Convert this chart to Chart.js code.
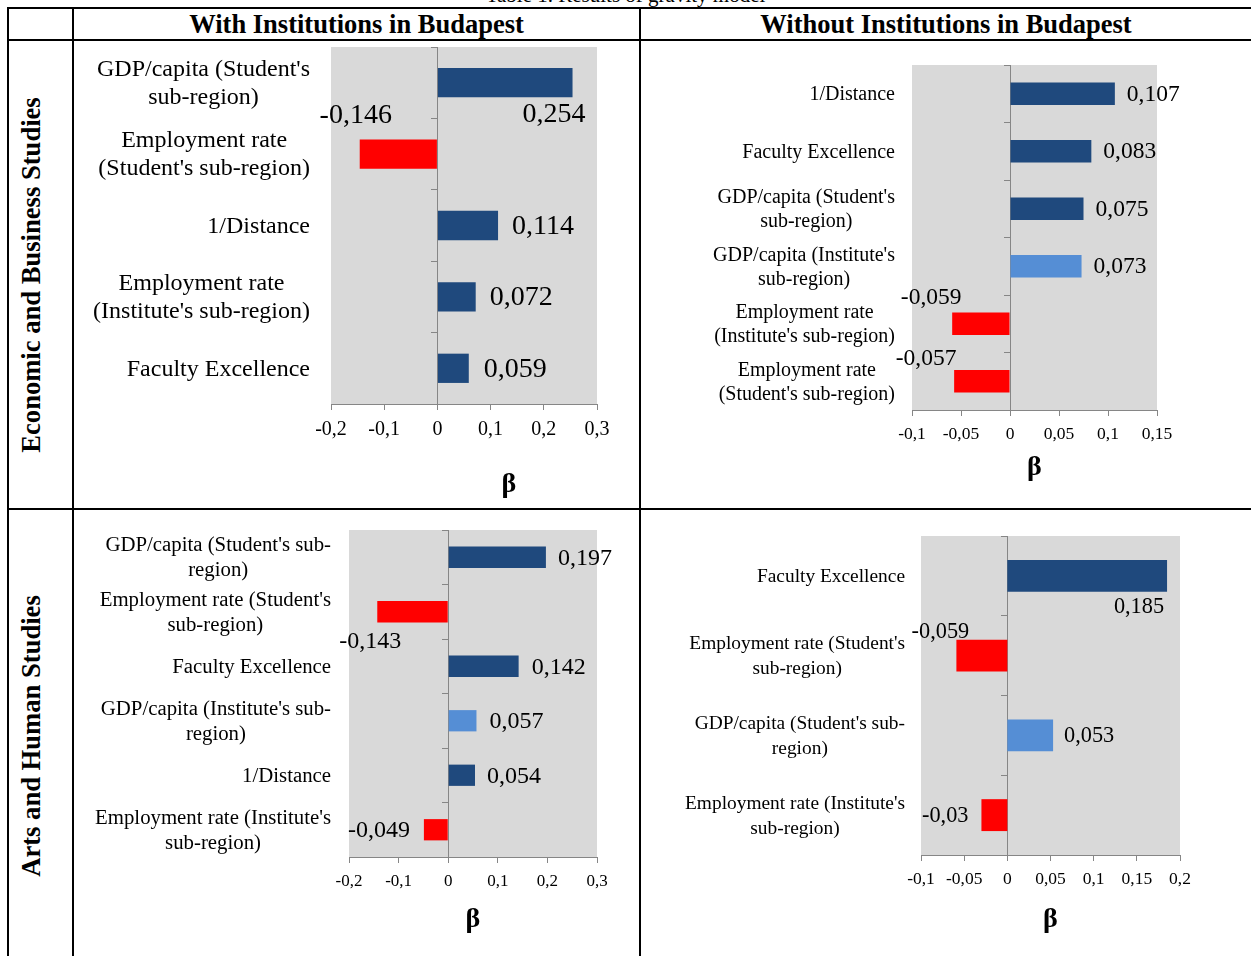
<!DOCTYPE html>
<html>
<head>
<meta charset="utf-8">
<script src="https://cdn.jsdelivr.net/npm/chart.js@4.4.0/dist/chart.umd.min.js"></script>
<style>
  html, body { margin: 0; padding: 0; background: #fff; }
  body { width: 1251px; height: 956px; position: relative; overflow: hidden;
         font-family: "Liberation Serif", "Times New Roman", serif; color: #000; }
  .line { position: absolute; background: #000; }
  .head { position: absolute; top: 8px; height: 32px; line-height: 33px; font-weight: bold;
          font-size: 26.5px; text-align: center; white-space: nowrap; }
  .side { position: absolute; font-weight: bold; font-size: 26.6px; white-space: nowrap;
          transform: translate(-50%, -50%) rotate(-90deg); }
  .caption { position: absolute; top: -15px; left: 0; width: 1251px; text-align: center;
             font-size: 21px; line-height: 21px; white-space: nowrap; }
  canvas { position: absolute; }
</style>
</head>
<body>
<div class="caption">Table 1. Results of gravity model</div>

<div class="line" style="left:7px;top:7px;width:1244px;height:2px"></div>
<div class="line" style="left:7px;top:39px;width:1244px;height:2px"></div>
<div class="line" style="left:7px;top:508px;width:1244px;height:2px"></div>
<div class="line" style="left:7px;top:7px;width:2px;height:949px"></div>
<div class="line" style="left:72px;top:7px;width:2px;height:949px"></div>
<div class="line" style="left:639px;top:7px;width:2px;height:949px"></div>

<div class="head" style="left:74px;width:565px">With Institutions in Budapest</div>
<div class="head" style="left:641px;width:610px">Without Institutions in Budapest</div>
<div class="side" style="left:31px;top:275px">Economic and Business Studies</div>
<div class="side" style="left:31px;top:736px">Arts and Human Studies</div>

<canvas id="ebWith" width="563" height="466" style="left:75px;top:42px"></canvas>
<canvas id="ebWithout" width="609" height="466" style="left:642px;top:42px"></canvas>
<canvas id="ahWith" width="563" height="444" style="left:75px;top:512px"></canvas>
<canvas id="ahWithout" width="609" height="444" style="left:642px;top:512px"></canvas>

<script>
// Economic and Business Studies, with institutions in Budapest
const ebWithLabels = [
  ["GDP/capita (Student's", "sub-region)"],
  ["Employment rate", "(Student's sub-region)"],
  ["1/Distance"],
  ["Employment rate", "(Institute's sub-region)"],
  ["Faculty Excellence"]
];
const ebWithValues = [0.254, -0.146, 0.114, 0.072, 0.059];
const ebWithColors = ['#1F497D', '#FF0000', '#1F497D', '#1F497D', '#1F497D'];

// Economic and Business Studies, without institutions in Budapest
const ebWithoutLabels = [
  ["1/Distance"],
  ["Faculty Excellence"],
  ["GDP/capita (Student's", "sub-region)"],
  ["GDP/capita (Institute's", "sub-region)"],
  ["Employment rate", "(Institute's sub-region)"],
  ["Employment rate", "(Student's sub-region)"]
];
const ebWithoutValues = [0.107, 0.083, 0.075, 0.073, -0.059, -0.057];
const ebWithoutColors = ['#1F497D', '#1F497D', '#1F497D', '#558ED5', '#FF0000', '#FF0000'];

// Arts and Human Studies, with institutions in Budapest
const ahWithLabels = [
  ["GDP/capita (Student's sub-", "region)"],
  ["Employment rate (Student's", "sub-region)"],
  ["Faculty Excellence"],
  ["GDP/capita (Institute's sub-", "region)"],
  ["1/Distance"],
  ["Employment rate (Institute's", "sub-region)"]
];
const ahWithValues = [0.197, -0.143, 0.142, 0.057, 0.054, -0.049];
const ahWithColors = ['#1F497D', '#FF0000', '#1F497D', '#558ED5', '#1F497D', '#FF0000'];

// Arts and Human Studies, without institutions in Budapest
const ahWithoutLabels = [
  ["Faculty Excellence"],
  ["Employment rate (Student's", "sub-region)"],
  ["GDP/capita (Student's sub-", "region)"],
  ["Employment rate (Institute's", "sub-region)"]
];
const ahWithoutValues = [0.185, -0.059, 0.053, -0.03];
const ahWithoutColors = ['#1F497D', '#FF0000', '#558ED5', '#FF0000'];

const serif = '"Liberation Serif", "Times New Roman", serif';
const axisGrey = '#868686';
const comma = v => String(Math.round(v * 1000) / 1000).replace('.', ',');

// grey plot area, two-line category labels, value labels and the beta title
const chartDeco = {
  id: 'chartDeco',
  beforeDraw(chart) {
    const a = chart.chartArea, ctx = chart.ctx;
    ctx.save();
    ctx.fillStyle = '#D9D9D9';
    ctx.fillRect(a.left, a.top, a.right - a.left, a.bottom - a.top);
    ctx.restore();
  },
  afterDatasetsDraw(chart, args, o) {
    const ctx = chart.ctx, a = chart.chartArea, ys = chart.scales.y;
    ctx.save();
    ctx.fillStyle = '#000';
    ctx.textBaseline = 'middle';

    ctx.font = o.catSize + 'px ' + serif;
    ctx.textAlign = 'center';
    chart.data.labels.forEach((lines, i) => {
      const w = Math.max(...lines.map(s => ctx.measureText(s).width));
      const cx = a.left - o.catGap - w / 2;
      const y0 = ys.getPixelForValue(i) - (lines.length - 1) * o.catLine / 2 + 1;
      lines.forEach((s, k) => ctx.fillText(s, cx, y0 + k * o.catLine));
    });

    ctx.font = o.valSize + 'px ' + serif;
    const meta = chart.getDatasetMeta(0);
    chart.data.datasets[0].data.forEach((v, i) => {
      const bar = meta.data[i];
      const p = o.place[i];
      ctx.textAlign = p[0];
      ctx.fillText(comma(v), bar.x + p[1], bar.y + p[2] + 1);
    });

    ctx.font = 'bold 28px ' + serif;
    ctx.textAlign = 'center';
    ctx.fillText('β', (a.left + a.right) / 2 + o.betaDx, a.bottom + o.betaDy);
    ctx.restore();
  }
};

function makeChart(id, labels, values, colors, opt) {
  return new Chart(document.getElementById(id), {
    type: 'bar',
    data: {
      labels: labels,
      datasets: [{
        data: values,
        backgroundColor: colors,
        barPercentage: opt.bar,
        categoryPercentage: 1
      }]
    },
    options: {
      indexAxis: 'y',
      responsive: false,
      animation: false,
      layout: { padding: opt.pad },
      plugins: {
        legend: { display: false },
        tooltip: { enabled: false },
        chartDeco: opt.deco
      },
      scales: {
        x: {
          min: opt.min, max: opt.max,
          ticks: {
            stepSize: opt.step, autoSkip: false, maxRotation: 0, padding: 8,
            color: '#000', font: { family: serif, size: opt.tickSize },
            callback: v => comma(v)
          },
          grid: { drawOnChartArea: false, tickLength: 6, color: axisGrey },
          border: { color: axisGrey },
          afterFit: s => { s.height = 40; }
        },
        y: {
          position: { x: 0 },
          offset: true,
          ticks: { display: false },
          grid: { offset: true, drawOnChartArea: false, tickLength: 6, color: axisGrey },
          border: { color: axisGrey }
        }
      }
    },
    plugins: [chartDeco]
  });
}

makeChart('ebWith', ebWithLabels, ebWithValues, ebWithColors, {
  min: -0.2, max: 0.3, step: 0.1, tickSize: 20, bar: 0.41,
  pad: { left: 256, top: 5, right: 41, bottom: 64 },
  deco: {
    catSize: 24, catLine: 28, catGap: 21, valSize: 28, betaDx: 45, betaDy: 81,
    place: [['right', 13, 31], ['center', -4, -39], ['left', 14, 0], ['left', 14, 0], ['left', 15, 0]]
  }
});

makeChart('ebWithout', ebWithoutLabels, ebWithoutValues, ebWithoutColors, {
  min: -0.1, max: 0.15, step: 0.05, tickSize: 17.5, bar: 0.39,
  pad: { left: 270, top: 23, right: 94, bottom: 58 },
  deco: {
    catSize: 20, catLine: 24, catGap: 17, valSize: 23.5, betaDx: 0, betaDy: 58,
    place: [['left', 12, 0], ['left', 12, 0], ['left', 12, 0], ['left', 12, 0],
            ['center', -21, -27], ['center', -28, -23]]
  }
});

makeChart('ahWith', ahWithLabels, ahWithValues, ahWithColors, {
  min: -0.2, max: 0.3, step: 0.1, tickSize: 17, bar: 0.39,
  pad: { left: 274, top: 18, right: 41, bottom: 59 },
  deco: {
    catSize: 20.8, catLine: 25, catGap: 18, valSize: 24, betaDx: 0, betaDy: 63,
    place: [['left', 12, 0], ['center', -7, 29], ['left', 13, 0], ['left', 13, 0],
            ['left', 12, 0], ['right', -14, 0]]
  }
});

makeChart('ahWithout', ahWithoutLabels, ahWithoutValues, ahWithoutColors, {
  min: -0.1, max: 0.2, step: 0.05, tickSize: 17.5, bar: 0.4,
  pad: { left: 279, top: 24, right: 71, bottom: 61 },
  deco: {
    catSize: 19.4, catLine: 25, catGap: 16, valSize: 22.3, betaDx: 0, betaDy: 65,
    place: [['right', -3, 30], ['center', -16, -24], ['left', 11, 0], ['right', -13, 0]]
  }
});
</script>
</body>
</html>
